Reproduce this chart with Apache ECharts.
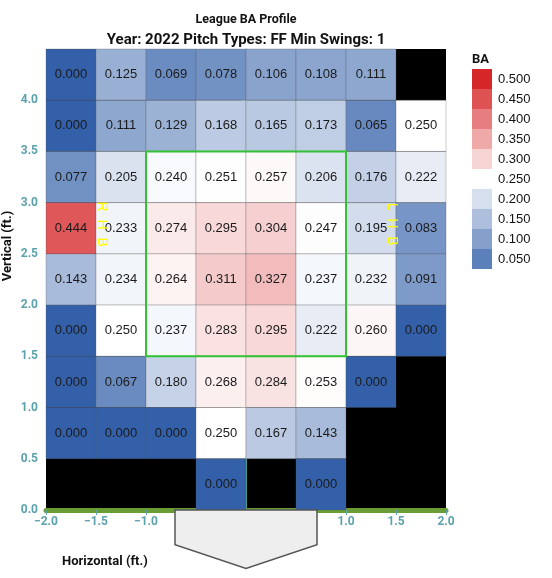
<!DOCTYPE html>
<html>
<head>
<meta charset="utf-8">
<script src="https://cdn.jsdelivr.net/npm/echarts@6/dist/echarts.min.js"></script>
<style>
  html, body { margin: 0; padding: 0; background: #fff; }
  #chart { width: 552px; height: 578px; }
</style>
</head>
<body>
<div id="chart"></div>
<script>
// 列左边界 (ft.)
var xBins = [-2.0, -1.5, -1.0, -0.5, 0.0, 0.5, 1.0, 1.5];
// 行下边界 (ft.)，从上往下
var yBins = [4.0, 3.5, 3.0, 2.5, 2.0, 1.5, 1.0, 0.5, 0.0];
// 每格的 BA，null = 没有数据
var baRows = [
  [0.000, 0.125, 0.069, 0.078, 0.106, 0.108, 0.111, null],
  [0.000, 0.111, 0.129, 0.168, 0.165, 0.173, 0.065, 0.250],
  [0.077, 0.205, 0.240, 0.251, 0.257, 0.206, 0.176, 0.222],
  [0.444, 0.233, 0.274, 0.295, 0.304, 0.247, 0.195, 0.083],
  [0.143, 0.234, 0.264, 0.311, 0.327, 0.237, 0.232, 0.091],
  [0.000, 0.250, 0.237, 0.283, 0.295, 0.222, 0.260, 0.000],
  [0.000, 0.067, 0.180, 0.268, 0.284, 0.253, 0.000, null],
  [0.000, 0.000, 0.000, 0.250, 0.167, 0.143, null, null],
  [null, null, null, 0.000, null, 0.000, null, null]
];
var legendValues = [0.500, 0.450, 0.400, 0.350, 0.300, 0.250, 0.200, 0.150, 0.100, 0.050];

var cellSize = 0.5;
var baColors = ["#3360a9", "#ffffff", "#d62728"];
var tealColor = "#5ba2ad";

var cells = [];
yBins.forEach(function (y, r) {
  xBins.forEach(function (x, c) {
    var v = baRows[r][c];
    if (v !== null) cells.push([x, y, v]);
  });
});

var myChart = echarts.init(document.getElementById("chart"));

var option = {
  animation: false,
  grid: {
    left: 46, right: 106, top: 49, bottom: 68,
    show: true, backgroundColor: "#000", borderWidth: 0
  },
  xAxis: {
    type: "value", min: -2, max: 2, interval: 0.5,
    splitLine: { show: false },
    axisLine: { lineStyle: { color: "#6a9e34", width: 5 } },
    axisTick: { length: 5, lineStyle: { color: tealColor } },
    axisLabel: {
      color: tealColor, fontWeight: "bold", fontFamily: "Roboto", fontSize: 12, margin: 6,
      formatter: function (v) { return v.toFixed(1).replace("-", "\u2212"); }
    }
  },
  yAxis: {
    type: "value", min: 0, max: 4.5, interval: 0.5,
    splitLine: { show: false },
    axisLine: { show: true, lineStyle: { color: "#4aa89a", width: 1 } },
    axisTick: { length: 5, lineStyle: { color: tealColor } },
    axisLabel: {
      color: tealColor, fontWeight: "bold", fontFamily: "Roboto", fontSize: 12, margin: 8,
      formatter: function (v) { return v >= 4.5 ? "" : v.toFixed(1); }
    }
  },
  visualMap: [
    {
      type: "continuous", show: false, seriesIndex: 0, dimension: 2,
      min: 0, max: 0.5, inRange: { color: baColors }
    },
    {
      type: "piecewise", seriesIndex: 1, orient: "vertical", align: "left",
      left: 457, top: 54, itemWidth: 20, itemHeight: 20, itemGap: 0,
      itemSymbol: "rect", textGap: 6, selectedMode: false,
      textStyle: { color: "#111", fontSize: 13, fontFamily: "Liberation Sans" },
      pieces: legendValues.map(function (v) {
        return { value: v, label: v.toFixed(3), color: echarts.color.lerp(v / 0.5, baColors) };
      })
    }
  ],
  series: [
    {
      type: "custom",
      data: cells,
      renderItem: function (params, api) {
        var x0 = api.value(0), y0 = api.value(1), v = api.value(2);
        var p0 = api.coord([x0, y0 + cellSize]);
        var p1 = api.coord([x0 + cellSize, y0]);
        return {
          type: "group",
          children: [
            {
              type: "rect",
              shape: { x: p0[0], y: p0[1], width: p1[0] - p0[0], height: p1[1] - p0[1] },
              style: { fill: api.visual("color"), stroke: "rgba(90,90,90,0.3)", lineWidth: 1 }
            },
            {
              type: "text",
              x: (p0[0] + p1[0]) / 2, y: (p0[1] + p1[1]) / 2,
              style: {
                text: v.toFixed(3), fill: "#1a1a1a", align: "center", verticalAlign: "middle",
                font: "13px 'Liberation Sans', Arial, sans-serif"
              }
            }
          ]
        };
      }
    },
    { type: "scatter", data: [] }
  ]
};

myChart.setOption(option);

// 好球区、本垒板和文字
var zone = { x: [-1.0, 1.0], y: [1.5, 3.5] };
var z0 = myChart.convertToPixel({ gridIndex: 0 }, [zone.x[0], zone.y[1]]);
var z1 = myChart.convertToPixel({ gridIndex: 0 }, [zone.x[1], zone.y[0]]);
var plate = [[-0.71, 0], [0.71, 0], [0.71, -0.34], [0, -0.57], [-0.71, -0.34]].map(function (p) {
  return myChart.convertToPixel({ gridIndex: 0 }, p);
});
var rhb = myChart.convertToPixel({ gridIndex: 0 }, [-1.44, 2.79]);
var lhb = myChart.convertToPixel({ gridIndex: 0 }, [1.46, 2.79]);

var boldFont = "bold 13px Roboto, sans-serif";
var sideFont = "14px 'Liberation Sans', sans-serif";
myChart.setOption({
  graphic: [
    { type: "text", x: 246, y: 20, z: 100, style: { text: "League BA Profile", font: "bold 12.5px Roboto, sans-serif", fill: "#111", align: "center", verticalAlign: "middle" } },
    { type: "text", x: 246, y: 40, z: 100, style: { text: "Year: 2022 Pitch Types: FF Min Swings: 1", font: "bold 15px Roboto, sans-serif", fill: "#111", align: "center", verticalAlign: "middle" } },
    { type: "text", x: 472, y: 60, z: 100, style: { text: "BA", font: boldFont, fill: "#111", align: "left", verticalAlign: "middle" } },
    { type: "text", x: 62, y: 562, z: 100, style: { text: "Horizontal (ft.)", font: boldFont, fill: "#111", align: "left", verticalAlign: "middle" } },
    { type: "text", x: 8, y: 246, rotation: Math.PI / 2, z: 100, style: { text: "Vertical (ft.)", font: boldFont, fill: "#111", align: "center", verticalAlign: "middle" } },
    {
      type: "rect", z: 100,
      shape: { x: z0[0], y: z0[1], width: z1[0] - z0[0], height: z1[1] - z0[1] },
      style: { fill: "none", stroke: "#33c233", lineWidth: 2 }
    },
    {
      type: "polygon", z: 100,
      shape: { points: plate },
      style: { fill: "#eeeeee", stroke: "#555", lineWidth: 1.5 }
    },
    { type: "text", x: rhb[0], y: rhb[1], rotation: -Math.PI / 2, z: 100, style: { text: "R  H  B", font: sideFont, fill: "#ffff00", align: "center", verticalAlign: "middle" } },
    { type: "text", x: lhb[0], y: lhb[1], rotation: -Math.PI / 2, z: 100, style: { text: "L  H  B", font: sideFont, fill: "#ffff00", align: "center", verticalAlign: "middle" } }
  ]
});
</script>
</body>
</html>
